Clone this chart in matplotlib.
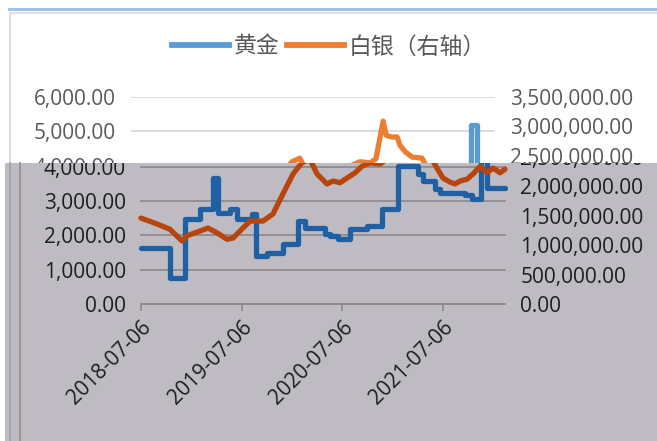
import matplotlib.pyplot as plt
import pandas as pd
from matplotlib.lines import Line2D
from matplotlib.patches import Rectangle
from matplotlib.ticker import FuncFormatter

plt.rcParams['font.family'] = ['Open Sans', 'Noto Sans CJK SC', 'DejaVu Sans']

# gold (left axis), step-like series
gold_dates = ['2018-07-06', '2018-10-19', '2018-12-13', '2019-02-05', '2019-03-24',
              '2019-04-11', '2019-05-25', '2019-06-19', '2019-08-13', '2019-08-27',
              '2019-10-06', '2019-12-03', '2020-01-27', '2020-02-21', '2020-05-04',
              '2020-05-22', '2020-06-20', '2020-08-03', '2020-10-03', '2020-11-27',
              '2021-01-24', '2021-04-06', '2021-04-25', '2021-06-07', '2021-06-25',
              '2021-09-24', '2021-10-19', '2021-11-21', '2021-12-13', '2022-02-16']
gold_values = [1630, 760, 2480, 2770, 3670,
               2650, 2770, 2480, 2620, 1400,
               1490, 1750, 2420, 2200, 2040,
               1980, 1890, 2180, 2270, 2770,
               4020, 3780, 3580, 3350, 3230,
               3180, 3060, 5190, 3380, 3380]

# silver (right axis)
silver_dates = ['2018-07-06', '2018-09-02', '2018-10-19', '2018-12-02', '2018-12-20',
                '2019-02-05', '2019-03-06', '2019-04-08', '2019-05-14', '2019-06-05',
                '2019-06-30', '2019-08-06', '2019-09-22', '2019-10-28', '2019-12-03',
                '2020-01-09', '2020-02-10', '2020-03-10', '2020-04-05', '2020-05-11',
                '2020-06-02', '2020-06-27', '2020-07-23', '2020-08-21', '2020-09-15',
                '2020-10-14', '2020-11-20', '2020-12-11', '2021-01-06', '2021-01-17',
                '2021-02-07', '2021-02-26', '2021-03-08', '2021-03-27', '2021-04-21',
                '2021-05-27', '2021-06-14', '2021-07-06', '2021-08-01', '2021-08-19',
                '2021-09-06', '2021-10-01', '2021-10-23', '2021-11-18', '2021-12-13',
                '2022-01-04', '2022-01-29', '2022-02-16']
silver_values = [1460000, 1360000, 1270000, 1070000, 1160000,
                 1240000, 1290000, 1210000, 1100000, 1120000,
                 1240000, 1410000, 1410000, 1530000, 1870000,
                 2210000, 2400000, 2460000, 2210000, 2040000,
                 2090000, 2060000, 2140000, 2230000, 2340000,
                 2400000, 2380000, 2450000, 3090000, 2850000,
                 2820000, 2820000, 2680000, 2570000, 2480000,
                 2460000, 2310000, 2140000, 2070000, 2040000,
                 2090000, 2120000, 2210000, 2340000, 2230000,
                 2310000, 2230000, 2290000]

x_tick_dates = ['2018-07-06', '2019-07-06', '2020-07-06', '2021-07-06']
left_ticks = [0, 1000, 2000, 3000, 4000, 5000, 6000]
right_ticks = [0, 500000, 1000000, 1500000, 2000000, 2500000, 3000000, 3500000]
legend_labels = ['黄金', '白银（右轴）']

W, H = 657, 441
fig = plt.figure(figsize=(W / 100, H / 100), dpi=100)
fmt = FuncFormatter(lambda v, p: f'{v:,.2f}')


def px_box(left, top, width, height):
    return [left / W, 1 - (top + height) / H, width / W, height / H]


def draw_chart(left, top, gold_color, silver_color, text_color, grid_color, zorder):
    ax = fig.add_axes(px_box(left, top, 364, 206), zorder=zorder)
    ax.set_facecolor('none')
    ax.plot(pd.to_datetime(gold_dates), gold_values, color=gold_color, lw=3.8,
            drawstyle='steps-post', solid_joinstyle='round', solid_capstyle='round')
    ax.set_xlim(pd.Timestamp('2018-07-06'), pd.Timestamp('2022-02-16'))
    ax.set_ylim(0, 6000)
    ax.set_yticks(left_ticks)
    ax.yaxis.set_major_formatter(fmt)
    ax.set_xticks(pd.to_datetime(x_tick_dates))
    ax.set_xticklabels(x_tick_dates, rotation=45, ha='right', va='top',
                       rotation_mode='anchor')
    ax.grid(axis='y', color=grid_color, lw=1.3)
    ax.set_axisbelow(True)
    for s in ['top', 'left', 'right']:
        ax.spines[s].set_visible(False)
    ax.spines['bottom'].set_color(grid_color)
    ax.spines['bottom'].set_linewidth(1.3)
    ax.tick_params(axis='y', length=0, pad=11, labelsize=15, labelcolor=text_color)
    ax.tick_params(axis='x', length=5, width=1.3, color=grid_color, pad=4,
                   labelsize=15, labelcolor=text_color)

    ax2 = ax.twinx()
    ax2.set_zorder(zorder)
    ax2.set_facecolor('none')
    ax2.plot(pd.to_datetime(silver_dates), silver_values, color=silver_color, lw=3.8,
             solid_joinstyle='round', solid_capstyle='round')
    ax2.set_ylim(0, 3500000)
    ax2.set_yticks(right_ticks)
    ax2.yaxis.set_major_formatter(fmt)
    for s in ax2.spines.values():
        s.set_visible(False)
    ax2.tick_params(axis='y', length=0, pad=11, labelsize=15, labelcolor=text_color)
    return ax, ax2


# page decoration: blue band and chart frame (behind everything)
fig.add_artist(Rectangle((8 / W, 1 - 11 / H), 1, 3 / H, transform=fig.transFigure,
                         facecolor='#9DC3E6', edgecolor='none', zorder=-2))
fig.add_artist(Rectangle((10 / W, -0.1), 1, 1.1 - 13 / H, transform=fig.transFigure,
                         facecolor='white', edgecolor='#D9D9D9', lw=1.2, zorder=-1))

ax_w, ax_w2 = draw_chart(131, 97, '#5B9BD5', '#ED7D31', '#595959', '#D9D9D9', 0)
handles = [Line2D([], [], color='#5B9BD5', lw=4.2), Line2D([], [], color='#ED7D31', lw=4.2)]
ax_w.legend(handles, legend_labels, ncol=2, frameon=False, loc='center',
            bbox_to_anchor=(329 / W, 1 - 47 / H), bbox_transform=fig.transFigure,
            labelcolor='#595959', handlelength=2.5,
            handletextpad=0.2, columnspacing=0.3,
            prop={'family': ['Noto Sans CJK SC'], 'size': 16.5})

# grey overlay with shifted darker copy of the chart
gray_top = 163
fig.add_artist(Rectangle((5 / W, 0), 1, (H - gray_top) / H, transform=fig.transFigure,
                         facecolor='#BEBCC2', edgecolor='none', zorder=1))
for xp, c in [(10, '#A4A2A7'), (20, '#929095')]:
    fig.add_artist(Line2D([xp / W, xp / W], [0, (H - gray_top) / H],
                          transform=fig.transFigure, color=c, lw=1.3, zorder=1))

ax_g, ax_g2 = draw_chart(141, 98, '#1F5FA3', '#B8450B', '#1E1E1E', '#8E8C91', 2)

fig.canvas.draw()
clip = Rectangle((5 / W, 0), 1, (H - gray_top) / H, transform=fig.transFigure)
for a in (ax_g, ax_g2):
    for art in (a.get_lines() + a.yaxis.get_ticklabels() + a.yaxis.get_gridlines()):
        art.set_clip_on(True)
        art.set_clip_path(clip)

fig.savefig('out.png', dpi=100)
